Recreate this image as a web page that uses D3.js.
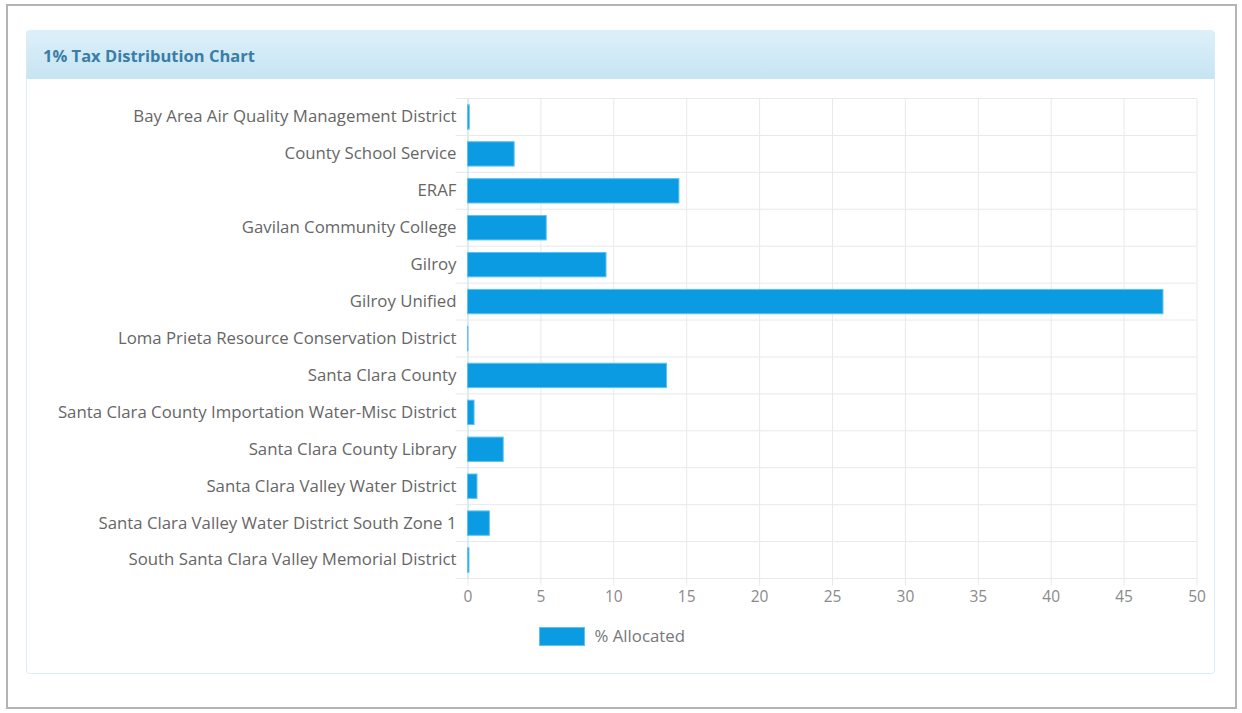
<!DOCTYPE html>
<meta charset="utf-8">
<head>
  <title>1% Tax Distribution Chart</title>
  <script src="https://cdn.jsdelivr.net/npm/d3@7"></script>
  <style>
    body { margin: 0; background: #fff; font-family: "Open Sans", sans-serif; }
    svg { display: block; }
  </style>
</head>
<body>
<svg width="1242" height="713"></svg>
<script>

  // categories and % allocated
  var agencies = [
    "Bay Area Air Quality Management District",
    "County School Service",
    "ERAF",
    "Gavilan Community College",
    "Gilroy",
    "Gilroy Unified",
    "Loma Prieta Resource Conservation District",
    "Santa Clara County",
    "Santa Clara County Importation Water-Misc District",
    "Santa Clara County Library",
    "Santa Clara Valley Water District",
    "Santa Clara Valley Water District South Zone 1",
    "South Santa Clara Valley Memorial District"
  ];
  var allocated = [0.12, 3.2, 14.5, 5.4, 9.5, 47.7, 0.03, 13.65, 0.45, 2.45, 0.65, 1.5, 0.1];
  var xTicks = [0, 5, 10, 15, 20, 25, 30, 35, 40, 45, 50];
  var title = "1% Tax Distribution Chart";
  var seriesName = "% Allocated";

  var svg = d3.select("svg");

  // outer frame
  svg.append("rect")
    .attr("x", 7).attr("y", 5)
    .attr("width", 1229).attr("height", 703)
    .attr("fill", "#fff")
    .attr("stroke", "#b4b4b4").attr("stroke-width", 2);

  // panel
  var defs = svg.append("defs");
  var grad = defs.append("linearGradient")
    .attr("id", "hdr").attr("x1", 0).attr("y1", 0).attr("x2", 0).attr("y2", 1);
  grad.append("stop").attr("offset", "0%").attr("stop-color", "#ddf0fa");
  grad.append("stop").attr("offset", "100%").attr("stop-color", "#c6e4f3");

  svg.append("rect")
    .attr("x", 26.5).attr("y", 30.5)
    .attr("width", 1188).attr("height", 643)
    .attr("rx", 3)
    .attr("fill", "#fff")
    .attr("stroke", "#dcecf4");

  svg.append("path")
    .attr("d", "M26.5,79 V34 Q26.5,30.5 30,30.5 H1211 Q1214.5,30.5 1214.5,34 V79 Z")
    .attr("fill", "url(#hdr)");

  svg.append("text")
    .attr("x", 43).attr("y", 62)
    .attr("fill", "#3a7da6")
    .attr("font-size", "16.5px")
    .attr("font-weight", "bold")
    .text(title);

  // chart
  var plotL = 467.5, plotR = 1196.5, plotT = 98.5, plotB = 578.5;

  var x = d3.scaleLinear()
    .domain([0, 50])
    .range([plotL, plotR]);

  var y = d3.scaleBand()
    .domain(agencies)
    .range([plotT, plotB])
    .paddingInner(0.34)
    .paddingOuter(0.17);

  var band = (plotB - plotT) / agencies.length;

  // vertical grid
  svg.append("g")
    .attr("transform", "translate(0," + plotT + ")")
    .call(d3.axisBottom(x).tickValues(xTicks).tickSize(plotB - plotT + 7).tickFormat(""))
    .call(function(g) {
      g.select(".domain").remove();
      g.selectAll("line").attr("stroke", "#e9e9e9");
    });

  // horizontal grid at band edges
  svg.append("g")
    .selectAll("line")
    .data(d3.range(agencies.length + 1))
    .enter()
      .append("line")
      .attr("x1", plotL - 12)
      .attr("x2", plotR)
      .attr("y1", function(d) { return plotT + d * band; })
      .attr("y2", function(d) { return plotT + d * band; })
      .attr("stroke", "#e9e9e9");

  // y labels
  svg.append("g")
    .attr("transform", "translate(" + plotL + ",0)")
    .call(d3.axisLeft(y).tickSize(0).tickPadding(11))
    .call(function(g) {
      g.select(".domain").attr("stroke", "#c4e4f5");
      g.selectAll("text")
        .attr("fill", "#666")
        .attr("font-size", "16.8px")
        .attr("font-family", "Open Sans, sans-serif");
    });

  // x labels
  svg.append("g")
    .attr("transform", "translate(0," + plotB + ")")
    .call(d3.axisBottom(x).tickValues(xTicks).tickSize(0).tickPadding(12))
    .call(function(g) {
      g.select(".domain").remove();
      g.selectAll("text")
        .attr("fill", "#8a8a8a")
        .attr("font-size", "15.5px")
        .attr("font-family", "Open Sans, sans-serif");
    });

  // bars
  svg.append("g")
    .selectAll("rect")
    .data(agencies)
    .enter()
      .append("rect")
      .attr("x", x(0))
      .attr("y", function(d) { return y(d); })
      .attr("width", function(d, i) { return x(allocated[i]) - x(0); })
      .attr("height", y.bandwidth())
      .attr("fill", "#0a9be3")
      .attr("stroke", "#5cc3f2")
      .attr("stroke-width", 1);

  // legend
  var legend = svg.append("g").attr("transform", "translate(539.5,627.5)");
  legend.append("rect")
    .attr("width", 45).attr("height", 18)
    .attr("fill", "#0a9be3")
    .attr("stroke", "#5cc3f2");
  legend.append("text")
    .attr("x", 55).attr("y", 9)
    .attr("dy", "0.35em")
    .attr("fill", "#777")
    .attr("font-size", "16.8px")
    .text(seriesName);

</script>
</body>
</html>
